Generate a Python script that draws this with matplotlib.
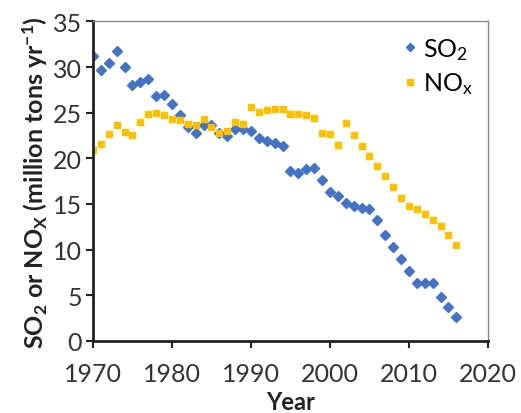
import numpy as np
import matplotlib
matplotlib.use('Agg')
import matplotlib.pyplot as plt

# Annual emissions, million tons per year
years = list(range(1970, 2017))
so2 = [31.2, 29.7, 30.4, 31.7, 30.0, 28.0, 28.4, 28.7, 26.8, 26.9,
       25.9, 24.7, 23.4, 22.8, 23.7, 23.6, 22.8, 22.5, 23.2, 23.2,
       23.0, 22.2, 21.9, 21.7, 21.3, 18.6, 18.4, 18.8, 18.9, 17.6,
       16.3, 15.9, 15.1, 14.8, 14.6, 14.5, 13.2, 11.6, 10.3, 9.0,
       7.7, 6.4, 6.4, 6.4, 4.8, 3.7, 2.6]
nox = [20.9, 21.6, 22.7, 23.6, 22.9, 22.6, 24.0, 24.8, 25.0, 24.7,
       24.3, 24.2, 23.8, 23.7, 24.3, 23.4, 22.8, 23.0, 24.0, 23.8,
       25.6, 25.1, 25.3, 25.4, 25.4, 24.9, 24.8, 24.7, 24.4, 22.8,
       22.7, 21.5, 23.9, 22.6, 21.3, 20.3, 19.2, 18.1, 16.9, 15.7,
       14.8, 14.5, 13.9, 13.3, 12.6, 11.6, 10.5]
xticks = [1970, 1980, 1990, 2000, 2010, 2020]
yticks = [0, 5, 10, 15, 20, 25, 30, 35]

plt.rcParams['font.family'] = ['Lato', 'DejaVu Sans']
plt.rcParams['mathtext.default'] = 'regular'

fig = plt.figure(figsize=(5.21, 4.14), dpi=100)
ax = fig.add_axes([0.1785, 0.174, 0.758, 0.772])

ax.plot(years, so2, linestyle='none', marker='D', markersize=5,
        color='#4472C4', label='SO$_2$')
ax.plot(years, nox, linestyle='none', marker='s', markersize=4.5,
        color='#FFC000', label='NO$_x$')

ax.set_xlim(1970, 2020)
ax.set_ylim(0, 35)
ax.set_xticks(xticks)
ax.set_yticks(yticks)
ax.tick_params(direction='out', length=5, width=1.5, labelsize=18,
               colors='#222222', labelcolor='#333333')
ax.tick_params(axis='x', pad=10)
ax.tick_params(axis='y', pad=3)

for side in ['left', 'bottom']:
    ax.spines[side].set_linewidth(2)
    ax.spines[side].set_color('#222222')
for side in ['top', 'right']:
    ax.spines[side].set_linewidth(1)
    ax.spines[side].set_color('#888888')

ax.set_xlabel('Year', fontsize=17, fontweight='bold', labelpad=4, color='#222222')
ax.set_ylabel('SO$_2$ or NO$_X$ (million tons yr$^{-1}$)', fontsize=18,
              fontweight='bold', labelpad=2, color='#222222')

ax.legend(loc='upper right', bbox_to_anchor=(1.02, 1.025), frameon=False,
          fontsize=18, handlelength=0.5, handletextpad=0.3, labelspacing=0.35,
          markerscale=0.9)

fig.savefig('out.png', dpi=100)
